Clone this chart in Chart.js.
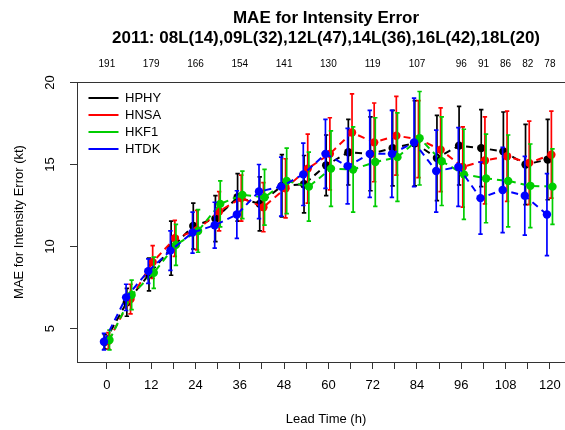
<!DOCTYPE html>
<html>
<head>
<meta charset="utf-8">
<script src="https://cdn.jsdelivr.net/npm/chart.js@4.4.1/dist/chart.umd.min.js"></script>
<style>
  html, body { margin: 0; padding: 0; overflow: hidden; background: #fff; }
</style>
</head>
<body>
<canvas id="chart" width="600" height="430"></canvas>
<script>
// lead times (h) and MAE per model
const leads = [0, 6, 12, 18, 24, 30, 36, 42, 48, 54, 60, 66, 72, 78, 84, 90, 96, 102, 108, 114, 120];
const models = ['HPHY', 'HNSA', 'HKF1', 'HTDK'];

const hphy = [4.2, 6.6, 8.3, 9.9, 11.25, 11.7, 13.0, 12.6, 13.7, 13.8, 14.95, 15.75, 15.65, 16.0, 16.3, 15.4, 16.15, 16.0, 15.8, 15.0, 15.3];
const hnsa = [4.25, 6.8, 9.05, 10.5, 11.0, 12.15, 12.95, 12.4, 13.55, 14.75, 15.65, 16.95, 16.35, 16.75, 16.55, 15.9, 14.85, 15.25, 15.5, 15.1, 15.6];
const hkf1 = [4.3, 7.05, 8.4, 10.1, 10.95, 12.6, 13.15, 13.0, 14.0, 13.65, 14.75, 14.7, 15.15, 15.45, 16.6, 15.2, 14.4, 14.15, 14.0, 13.7, 13.65];
const htdk = [4.2, 6.9, 8.5, 9.75, 10.85, 11.3, 11.95, 13.35, 13.65, 14.4, 15.65, 14.9, 15.65, 15.65, 16.35, 14.6, 14.85, 12.95, 13.45, 13.1, 11.95];

// half-length of the error bars
const hphyErr = [0.45, 0.85, 1.0, 1.65, 1.4, 1.4, 1.45, 1.65, 1.9, 1.75, 1.85, 2.0, 2.25, 2.3, 2.6, 2.6, 2.4, 2.35, 2.4, 2.45, 2.45];
const hnsaErr = [0.5, 0.9, 1.0, 1.1, 1.2, 1.2, 1.4, 1.5, 1.8, 2.1, 2.2, 2.35, 2.4, 2.4, 2.35, 2.55, 2.45, 2.65, 2.75, 2.55, 2.65];
const hkf1Err = [0.6, 0.9, 0.95, 1.25, 1.3, 1.4, 1.45, 1.7, 2.0, 2.1, 2.3, 2.6, 2.7, 2.7, 2.85, 2.7, 2.75, 2.7, 2.8, 2.55, 2.3];
const htdkErr = [0.5, 0.8, 0.75, 1.2, 1.25, 1.4, 1.45, 1.65, 1.8, 1.9, 2.1, 2.3, 2.65, 2.65, 2.7, 2.5, 2.4, 2.2, 2.6, 2.4, 2.5];

// small horizontal dodge (h) so the bars do not sit on top of each other
const dodge = [-0.6, 0.4, 0.7, -0.8];

// number of cases shown along the top
const countLeads = [0, 12, 24, 36, 48, 60, 72, 84, 96, 102, 108, 114, 120];
const caseCounts = [191, 179, 166, 154, 141, 130, 119, 107, 96, 91, 86, 82, 78];

const xTicks = leads;
const yTicks = [5, 10, 15, 20];

const values = [hphy, hnsa, hkf1, htdk];
const errors = [hphyErr, hnsaErr, hkf1Err, htdkErr];
const colors = ['#000000', '#ff0000', '#00cd00', '#0000ff'];

const FONT = '"Liberation Sans", Arial, Helvetica, sans-serif';
Chart.defaults.font.family = FONT;
Chart.defaults.color = '#000';

const datasets = models.map((name, i) => ({
    label: name,
    data: leads.map((t, j) => ({ x: t + dodge[i], y: values[i][j] })),
    err: errors[i],
    borderColor: colors[i],
    backgroundColor: colors[i],
    borderWidth: 2,
    borderDash: [7, 5],
    pointRadius: 4.2,
    pointBorderWidth: 0,
    pointHoverRadius: 4.2,
    tension: 0,
    order: 4 - i
}));

// error bars, drawn just before each series' own line and points
const errorBars = {
    id: 'errorBars',
    beforeDatasetDraw(chart, args) {
        const ds = chart.data.datasets[args.index];
        const { ctx, scales: { x, y } } = chart;
        ctx.save();
        ctx.strokeStyle = ds.borderColor;
        ctx.lineWidth = 1.7;
        ds.data.forEach((p, j) => {
            const px = x.getPixelForValue(p.x);
            const top = y.getPixelForValue(p.y + ds.err[j]);
            const bot = y.getPixelForValue(p.y - ds.err[j]);
            ctx.beginPath();
            ctx.moveTo(px, top); ctx.lineTo(px, bot);
            ctx.moveTo(px - 2.2, top); ctx.lineTo(px + 2.2, top);
            ctx.moveTo(px - 2.2, bot); ctx.lineTo(px + 2.2, bot);
            ctx.stroke();
        });
        ctx.restore();
    }
};

// the 'chartArea' legend gets its top reset to 0, so put it back inside the plot
const legendInside = {
    id: 'legendInside',
    afterLayout(chart) {
        const lg = chart.legend;
        if (!lg) return;
        const w = lg.width, h = lg.height;
        lg.left = chart.chartArea.left + 7.5;
        lg.top = chart.chartArea.top + 5.5;
        lg.right = lg.left + w;
        lg.bottom = lg.top + h;
    }
};

new Chart(document.getElementById('chart'), {
    type: 'line',
    data: { datasets },
    plugins: [errorBars, legendInside],
    options: {
        responsive: false,
        animation: false,
        layout: { padding: { top: 0, left: 0, right: 25, bottom: 0 } },
        plugins: {
            title: {
                display: true,
                fullSize: false,
                text: ['MAE for Intensity Error', '2011: 08L(14),09L(32),12L(47),14L(36),16L(42),18L(20)'],
                font: { size: 17, weight: 'bold', lineHeight: 1.2 },
                color: '#000',
                padding: { top: 8, bottom: 4 }
            },
            legend: {
                position: 'chartArea',
                align: 'start',
                labels: {
                    boxWidth: 30,
                    boxHeight: 2,
                    padding: 4,
                    font: { size: 13 },
                    color: '#000',
                    sort: (a, b) => a.datasetIndex - b.datasetIndex,
                    generateLabels: chart => chart.data.datasets.map((ds, i) => ({
                        text: ds.label,
                        fillStyle: ds.borderColor,
                        strokeStyle: ds.borderColor,
                        lineWidth: 0,
                        lineDash: [],
                        datasetIndex: i
                    }))
                }
            },
            tooltip: { enabled: false }
        },
        scales: {
            x: {
                type: 'linear',
                position: 'bottom',
                min: -8.1,
                max: 126.8,
                afterBuildTicks: s => { s.ticks = xTicks.map(v => ({ value: v })); },
                afterFit: s => { s.height = 68; },
                grid: { drawOnChartArea: false, drawTicks: true, tickLength: 7, color: '#333', lineWidth: 1 },
                border: { display: true, color: '#333', width: 1 },
                ticks: {
                    autoSkip: false,
                    maxRotation: 0,
                    padding: 9,
                    font: { size: 13 },
                    callback: v => (v % 12 === 0 ? String(v) : '')
                },
                title: {
                    display: true,
                    text: 'Lead Time (h)',
                    font: { size: 13 },
                    padding: { top: 0, bottom: 3 }
                }
            },
            x2: {
                type: 'linear',
                position: 'top',
                min: -8.1,
                max: 126.8,
                afterBuildTicks: s => { s.ticks = countLeads.map(v => ({ value: v })); },
                afterFit: s => { s.height = 82 - 52.8; },
                grid: { display: false, drawTicks: false },
                border: { display: true, color: '#333', width: 1 },
                ticks: {
                    autoSkip: false,
                    maxRotation: 0,
                    padding: 11.5,
                    font: { size: 10 },
                    callback: v => String(caseCounts[countLeads.indexOf(v)])
                }
            },
            y: {
                type: 'linear',
                position: 'left',
                min: 2.96,
                max: 20.03,
                afterBuildTicks: s => { s.ticks = yTicks.map(v => ({ value: v })); },
                afterFit: s => { s.width = 77; },
                grid: { drawOnChartArea: false, drawTicks: true, tickLength: 7, color: '#333', lineWidth: 1 },
                border: { display: true, color: '#333', width: 1 },
                ticks: {
                    minRotation: 90,
                    maxRotation: 90,
                    crossAlign: 'center',
                    padding: 12.8,
                    font: { size: 13 }
                },
                title: {
                    display: true,
                    text: 'MAE for Intensity Error (kt)',
                    font: { size: 13 },
                    padding: { top: 12, bottom: 0 }
                }
            }
        }
    }
});
</script>
</body>
</html>
